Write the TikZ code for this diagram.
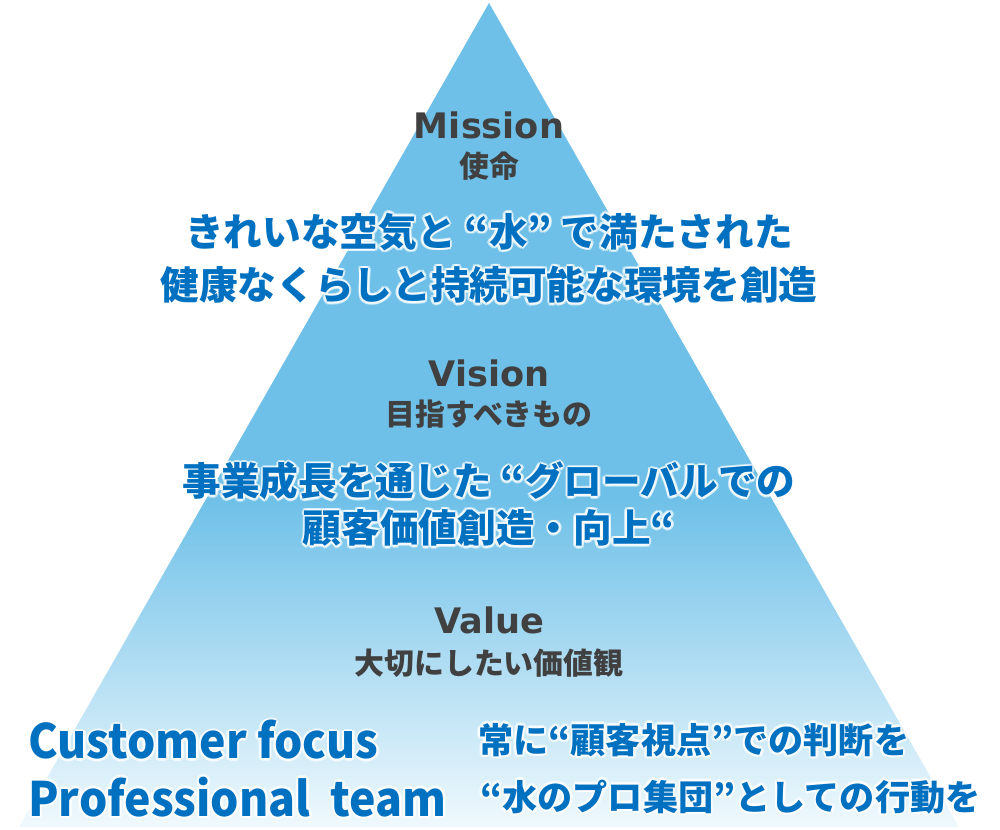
\documentclass[tikz,border=0pt]{standalone}
\usepackage{fontspec}
\usepackage{tikz}
\usetikzlibrary{calc}
\newfontfamily\jpfont{Noto Sans CJK JP}
\newfontfamily\keyfont{Noto Sans CJK JP}[FakeStretch=0.94]
\newfontfamily\hdfont{DejaVu Sans}
\definecolor{pyrtop}{HTML}{6EC0E8}
\definecolor{pyrlow}{HTML}{F0F9FD}
\definecolor{navy}{HTML}{0070C0}
\definecolor{ink}{HTML}{404040}
\pgfdeclareverticalshading{pyrshade}{100bp}{color(0bp)=(pyrlow); color(25bp)=(pyrlow); color(45bp)=(pyrtop); color(100bp)=(pyrtop)}
\tikzset{
  head/.style={text=ink, font=\hdfont\bfseries\fontsize{20pt}{24pt}\selectfont, inner sep=0pt},
  sub/.style={text=ink, font=\jpfont\bfseries\fontsize{17pt}{20pt}\selectfont, inner sep=0pt},
  big/.style={text=navy, font=\jpfont\bfseries\fontsize{22pt}{26pt}\selectfont, inner sep=0pt},
  key/.style={text=navy, font=\keyfont\bfseries\fontsize{27pt}{32pt}\selectfont, inner sep=0pt, anchor=west},
  act/.style={text=navy, font=\jpfont\bfseries\fontsize{20pt}{24pt}\selectfont, inner sep=0pt, anchor=west},
  halo/.style={text=white, text opacity=0.6},
}
% text with a white glow behind it
\newcommand\glownode[4]{%
  \foreach \a in {0,45,...,315}
    \node[#3,halo] (#1-\a) at ($(#2)+(\a:2.5)$) {#4};
  \node[#3] (#1) at (#2) {#4};
}

\begin{document}
\begin{tikzpicture}[x=0.02cm, y=-0.02cm]
  \useasboundingbox (0,0) rectangle (1000,830);
  \coordinate (apex) at (489,3);
  \coordinate (br) at (959,827);
  \coordinate (bl) at (19,827);
  \shade[shading=pyrshade] (apex) -- (br) -- (bl) -- cycle;
  \foreach \N/\T/\J/\y/\s in {mis/Mission/使命/125/166,
      vis/Vision/目指すべきもの/373/414,
      val/Value/大切にしたい価値観/620/663}{
    \node[head] (\N) at (489,\y) {\T};
    \node[sub] (\N jp) at (489,\s) {\J};
  }
  \glownode{mtxt1}{489,232}{big}{きれいな空気と “水” で満たされた}
  \glownode{mtxt2}{489,285}{big}{健康なくらしと持続可能な環境を創造}
  \glownode{vtxt1}{489,481}{big}{事業成長を通じた “グローバルでの}
  \glownode{vtxt2}{489,528}{big}{顧客価値創造・向上“}
  \glownode{cf}{28,740}{key}{Customer focus}
  \glownode{pt}{28,797}{key}{Professional~~team}
  \glownode{cfjp}{478,740}{act}{常に“顧客視点”での判断を}
  \glownode{ptjp}{480,797}{act}{“水のプロ集団”としての行動を}
\end{tikzpicture}
\end{document}
